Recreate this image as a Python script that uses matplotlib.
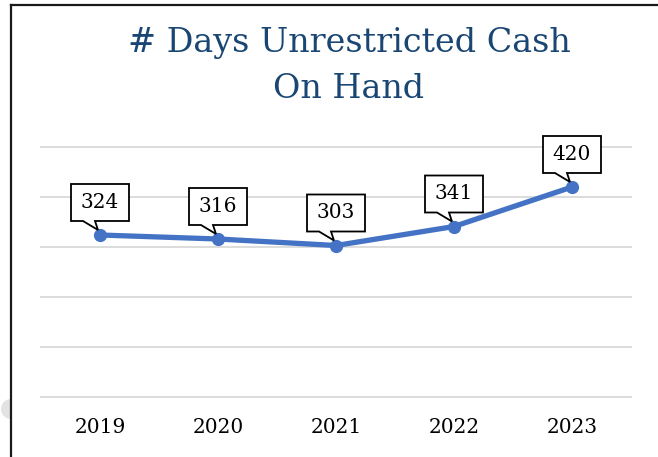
import matplotlib.pyplot as plt
import matplotlib.transforms as mtransforms
from matplotlib.patches import Polygon, Wedge
from matplotlib.lines import Line2D

years = ['2019', '2020', '2021', '2022', '2023']
days = [324, 316, 303, 341, 420]
title_lines = ['# Days Unrestricted Cash', 'On Hand']

W, H = 658, 457
fig = plt.figure(figsize=(W / 100, H / 100), dpi=100)
ax = fig.add_axes([41 / W, 1 - 397 / H, 590 / W, 250 / H])

x = list(range(len(years)))
ax.plot(x, days, color='#4472C4', lw=3.8, marker='o', ms=8.5, zorder=3,
        solid_capstyle='round')

ax.set_xlim(-0.5, len(years) - 0.5)
ax.set_ylim(0, 500)
ax.set_yticks(range(0, 501, 100))
ax.yaxis.grid(True, color='#D9D9D9', lw=1.3)
for gl in ax.get_ygridlines():
    gl.set_clip_on(False)
ax.set_axisbelow(True)
ax.tick_params(axis='y', left=False, labelleft=False)
ax.tick_params(axis='x', length=0, pad=15)
ax.set_xticks(x)
ax.set_xticklabels(years, family='DejaVu Serif', fontsize=14.5, color='black')
for s in ax.spines.values():
    s.set_visible(False)

# callout boxes, shape in pixel offsets from each data point
callout = [(-29, 14), (-17, 14), (-2, 5), (-5, 14), (29, 14),
           (29, 51), (-29, 51)]
for xi, v in zip(x, days):
    tr = mtransforms.ScaledTranslation(xi, v, ax.transData)
    ax.add_patch(Polygon(callout, closed=True, transform=tr, fc='white',
                         ec='black', lw=1.3, clip_on=False, zorder=4))
    ax.text(0, 33, str(v), transform=tr, ha='center', va='center',
            family='DejaVu Serif', fontsize=14.5, zorder=5)

# title
fig.text(349 / W, 1 - 52 / H, title_lines[0], ha='center', va='baseline',
         family='DejaVu Serif', fontsize=24, color='#1A4673')
fig.text(349 / W, 1 - 98 / H, title_lines[1], ha='center', va='baseline',
         family='DejaVu Serif', fontsize=24, color='#1A4673')

# frame edges of the screenshot
fig.add_artist(Wedge((11, H - 409), 10, 90, 270, transform=None,
                     fc='#E3E3E3', ec='none'))
fig.add_artist(Line2D([11 / W, 11 / W], [0, 1 - 5 / H], color='#1A1A1A',
                      lw=1.6, transform=fig.transFigure))
fig.add_artist(Line2D([11 / W, 1], [1 - 5 / H, 1 - 5 / H], color='#1A1A1A',
                      lw=1.6, transform=fig.transFigure))

fig.savefig('out.png', dpi=100)
